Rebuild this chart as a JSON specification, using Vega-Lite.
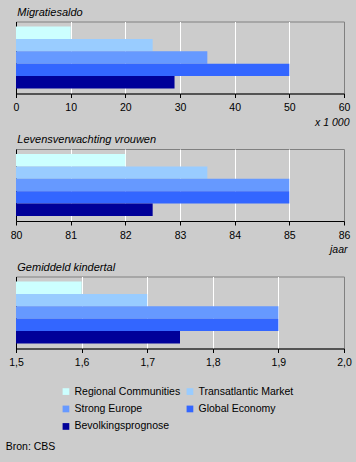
{
  "$schema": "https://vega.github.io/schema/vega-lite/v6.json",
  "background": "#cccccc",
  "padding": {"left": 5, "top": 5.5, "right": 12, "bottom": 12},
  "data": {
    "values": [
      {"indicator": "Migratiesaldo", "scenario": "Regional Communities", "value": 10},
      {"indicator": "Migratiesaldo", "scenario": "Transatlantic Market", "value": 25},
      {"indicator": "Migratiesaldo", "scenario": "Strong Europe", "value": 35},
      {"indicator": "Migratiesaldo", "scenario": "Global Economy", "value": 50},
      {"indicator": "Migratiesaldo", "scenario": "Bevolkingsprognose", "value": 29},
      {"indicator": "Levensverwachting vrouwen", "scenario": "Regional Communities", "value": 82},
      {"indicator": "Levensverwachting vrouwen", "scenario": "Transatlantic Market", "value": 83.5},
      {"indicator": "Levensverwachting vrouwen", "scenario": "Strong Europe", "value": 85},
      {"indicator": "Levensverwachting vrouwen", "scenario": "Global Economy", "value": 85},
      {"indicator": "Levensverwachting vrouwen", "scenario": "Bevolkingsprognose", "value": 82.5},
      {"indicator": "Gemiddeld kindertal", "scenario": "Regional Communities", "value": 1.6},
      {"indicator": "Gemiddeld kindertal", "scenario": "Transatlantic Market", "value": 1.7},
      {"indicator": "Gemiddeld kindertal", "scenario": "Strong Europe", "value": 1.9},
      {"indicator": "Gemiddeld kindertal", "scenario": "Global Economy", "value": 1.9},
      {"indicator": "Gemiddeld kindertal", "scenario": "Bevolkingsprognose", "value": 1.75}
    ]
  },
  "spacing": 55.5,
  "bounds": "flush",
  "title": {
    "text": "Bron: CBS", "orient": "bottom", "anchor": "start", "frame": "group",
    "dx": -10.3, "offset": 10, "fontSize": 10.5, "fontStyle": "normal", "fontWeight": "normal",
    "font": "Liberation Sans", "color": "black"
  },
  "vconcat": [
    {
      "title": {"text": "Migratiesaldo"},
      "width": 328, "height": 72,
      "transform": [{"filter": "datum.indicator == 'Migratiesaldo'"}],
      "mark": {"type": "bar"},
      "encoding": {
        "y": {"field": "scenario", "type": "nominal",
          "sort": ["Regional Communities", "Transatlantic Market", "Strong Europe", "Global Economy", "Bevolkingsprognose"],
          "scale": {"paddingInner": 0, "paddingOuter": 0.4},
          "axis": {"labels": false, "ticks": false, "title": null, "grid": false}},
        "x": {"field": "value", "type": "quantitative",
          "scale": {"domain": [0, 60], "zero": false, "nice": false},
          "axis": {"values": [0, 10, 20, 30, 40, 50, 60], "title": "x 1 000", "titleAlign": "right", "titleX": 333, "titlePadding": 4,
            "gridOpacity": {"condition": {"test": "datum.index > 0.001 && datum.index < 0.999", "value": 1}, "value": 0}}},
        "x2": {"datum": 0},
        "color": {"field": "scenario", "type": "nominal",
          "scale": {"domain": ["Regional Communities", "Transatlantic Market", "Strong Europe", "Global Economy", "Bevolkingsprognose"],
            "range": ["#ccffff", "#99ccff", "#6699ff", "#3366ff", "#000099"]},
          "legend": {"orient": "none", "legendX": 44.7, "legendY": 364.7, "columns": 2, "direction": "horizontal"}}
      }
    },
    {
      "title": {"text": "Levensverwachting vrouwen"},
      "width": 328, "height": 72,
      "transform": [{"filter": "datum.indicator == 'Levensverwachting vrouwen'"}],
      "mark": {"type": "bar"},
      "encoding": {
        "y": {"field": "scenario", "type": "nominal",
          "sort": ["Regional Communities", "Transatlantic Market", "Strong Europe", "Global Economy", "Bevolkingsprognose"],
          "scale": {"paddingInner": 0, "paddingOuter": 0.4},
          "axis": {"labels": false, "ticks": false, "title": null, "grid": false}},
        "x": {"field": "value", "type": "quantitative",
          "scale": {"domain": [80, 86], "zero": false, "nice": false},
          "axis": {"values": [80, 81, 82, 83, 84, 85, 86], "title": "jaar", "titleAlign": "right", "titleX": 331, "titlePadding": 4,
            "gridOpacity": {"condition": {"test": "datum.index > 0.001 && datum.index < 0.999", "value": 1}, "value": 0}}},
        "x2": {"datum": 80},
        "color": {"field": "scenario", "type": "nominal",
          "scale": {"domain": ["Regional Communities", "Transatlantic Market", "Strong Europe", "Global Economy", "Bevolkingsprognose"],
            "range": ["#ccffff", "#99ccff", "#6699ff", "#3366ff", "#000099"]},
          "legend": {"orient": "none", "legendX": 44.7, "legendY": 364.7, "columns": 2, "direction": "horizontal"}}
      }
    },
    {
      "title": {"text": "Gemiddeld kindertal"},
      "width": 328, "height": 72,
      "transform": [{"filter": "datum.indicator == 'Gemiddeld kindertal'"}],
      "mark": {"type": "bar"},
      "encoding": {
        "y": {"field": "scenario", "type": "nominal",
          "sort": ["Regional Communities", "Transatlantic Market", "Strong Europe", "Global Economy", "Bevolkingsprognose"],
          "scale": {"paddingInner": 0, "paddingOuter": 0.4},
          "axis": {"labels": false, "ticks": false, "title": null, "grid": false}},
        "x": {"field": "value", "type": "quantitative",
          "scale": {"domain": [1.5, 2.0], "zero": false, "nice": false},
          "axis": {"values": [1.5, 1.6, 1.7, 1.8, 1.9, 2.0], "title": null,
            "labelExpr": "replace(format(datum.value, '.1f'), '.', ',')",
            "gridOpacity": {"condition": {"test": "datum.index > 0.001 && datum.index < 0.999", "value": 1}, "value": 0}}},
        "x2": {"datum": 1.5},
        "color": {"field": "scenario", "type": "nominal",
          "scale": {"domain": ["Regional Communities", "Transatlantic Market", "Strong Europe", "Global Economy", "Bevolkingsprognose"],
            "range": ["#ccffff", "#99ccff", "#6699ff", "#3366ff", "#000099"]},
          "legend": {"orient": "none", "legendX": 44.7, "legendY": 364.7, "columns": 2, "direction": "horizontal"}}
      }
    }
  ],
  "config": {
    "view": {"stroke": "#808080", "strokeWidth": 1},
    "title": {"font": "Liberation Sans", "fontSize": 11, "fontStyle": "italic", "fontWeight": "normal", "color": "black",
      "anchor": "start", "frame": "group", "offset": 4, "dx": 1.3},
    "axis": {"labelFont": "Liberation Sans", "labelFontSize": 10.5, "labelColor": "black",
      "domainColor": "black", "domainWidth": 1, "tickColor": "black", "tickSize": 4, "tickWidth": 1, "labelPadding": 5,
      "titleFont": "Liberation Sans", "titleFontSize": 10.5, "titleFontStyle": "italic", "titleFontWeight": "normal", "titleColor": "black",
      "gridColor": "white", "gridWidth": 1, "labelFlush": false, "labelOverlap": false, "labelBound": false},
    "legend": {"title": null, "labelFont": "Liberation Sans", "labelFontSize": 10.5, "labelColor": "black",
      "symbolType": "square", "symbolSize": 45, "symbolStrokeWidth": 0, "symbolOpacity": 1,
      "columnPadding": 4, "rowPadding": 6.5, "labelOffset": 3.3, "padding": 0, "labelLimit": 300}
  }
}
